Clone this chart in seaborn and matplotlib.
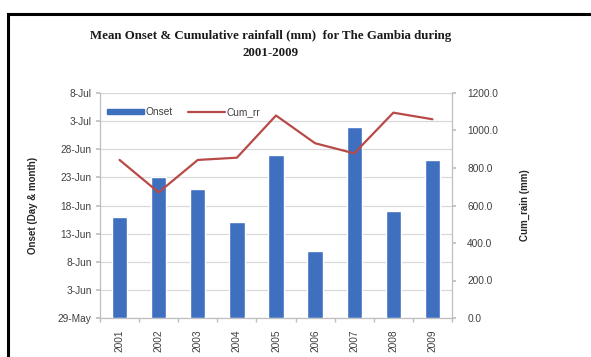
import numpy as np
import pandas as pd
import matplotlib
matplotlib.use("Agg")
import matplotlib.pyplot as plt
import matplotlib.patches as mpatches
from matplotlib.lines import Line2D
import seaborn as sns

# ---- data ----
years = ["2001", "2002", "2003", "2004", "2005", "2006", "2007", "2008", "2009"]
onset_dates = ["16-Jun", "23-Jun", "21-Jun", "15-Jun", "27-Jun", "10-Jun", "2-Jul", "17-Jun", "26-Jun"]
cum_rain = [843, 670, 843, 855, 1080, 932, 878, 1095, 1060]
date_ticks = ["29-May", "3-Jun", "8-Jun", "13-Jun", "18-Jun", "23-Jun", "28-Jun", "3-Jul", "8-Jul"]
rain_ticks = [0, 200, 400, 600, 800, 1000, 1200]

ref_year = "2001"
base = pd.to_datetime(f"{date_ticks[0]}-{ref_year}", format="%d-%b-%Y")
def to_days(s):
    return (pd.to_datetime(f"{s}-{ref_year}", format="%d-%b-%Y") - base).days

df = pd.DataFrame({
    "year": years,
    "onset": [to_days(d) for d in onset_dates],
    "cum_rr": cum_rain,
    "pos": np.arange(len(years)),
})

sns.set_theme(style="white")
plt.rcParams["font.family"] = ["Liberation Sans", "DejaVu Sans"]

fig = plt.figure(figsize=(5.91, 3.57), dpi=100)
fig.patch.set_facecolor("white")
ax = fig.add_axes([100/591, 1-318/357, 352/591, 225/357])

bar_color = "#3f6fbf"
line_color = "#b84a47"
grid_color = "#d9d9d9"
spine_color = "#bfbfbf"
tick_color = "#404040"
fs = 7.3

sns.barplot(data=df, x="year", y="onset", ax=ax, color=bar_color, width=0.39,
            saturation=1, zorder=3)
ax.set_xlim(-0.5, len(years) - 0.5)
day_ticks = [to_days(d) for d in date_ticks]
ax.set_ylim(day_ticks[0], day_ticks[-1])
ax.set_yticks(day_ticks)
ax.set_yticklabels(date_ticks)
ax.yaxis.grid(True, color=grid_color, lw=0.9, zorder=0)
ax.set_axisbelow(True)

ax2 = ax.twinx()
sns.lineplot(data=df, x="pos", y="cum_rr", ax=ax2, color=line_color, lw=1.6,
             sort=False, zorder=4)
ax2.set_ylim(rain_ticks[0], rain_ticks[-1])
ax2.set_yticks(rain_ticks)
ax2.set_yticklabels([f"{v:.1f}" for v in rain_ticks])
ax2.set_xlim(-0.5, len(years) - 0.5)

for a in (ax, ax2):
    a.spines["top"].set_visible(False)
    for s in ("left", "right", "bottom"):
        a.spines[s].set_color(spine_color)
        a.spines[s].set_linewidth(0.9)
ax.spines["right"].set_visible(False)
ax2.spines["left"].set_visible(False)
ax2.spines["bottom"].set_visible(False)

ax.set_xticks(np.arange(len(years)))
ax.set_xticklabels(years, rotation=90, fontsize=fs, color=tick_color)
ax.tick_params(axis="x", length=0, pad=8)
ax.set_xticks(np.arange(len(years) + 1) - 0.5, minor=True)
ax.tick_params(axis="x", which="minor", length=3, color=spine_color, direction="out", bottom=True)
ax.tick_params(axis="y", labelsize=fs, colors=tick_color, length=3, direction="out", left=True,
               pad=3)
ax.tick_params(axis="y", color=spine_color)
ax2.tick_params(axis="y", labelsize=fs, colors=tick_color, length=3, direction="out", right=True,
                pad=8)
ax2.tick_params(axis="y", color=spine_color)

ax.set_xlabel("")
ax.set_ylabel("Onset (Day & month)", fontsize=7, fontweight="bold", color="#262626", labelpad=14)
ax2.set_xlabel("")
ax2.set_ylabel("Cum_rain (mm)", fontsize=7, fontweight="bold", color="#262626", labelpad=16)

handles = [mpatches.Patch(color=bar_color), Line2D([0], [0], color=line_color, lw=1.6)]
leg = ax.legend(handles, ["Onset", "Cum_rr"], loc="center left", bbox_to_anchor=(0.0, 0.915),
                ncol=2, frameon=False, fontsize=fs, handlelength=3.6, handleheight=0.5,
                columnspacing=1.5, handletextpad=0.2, borderaxespad=0.3)
for t in leg.get_texts():
    t.set_color(tick_color)

fig.text(271/591, 1-44.5/357, "Mean Onset & Cumulative rainfall (mm)  for The Gambia during\n2001-2009",
         ha="center", va="center", fontsize=9.3, fontweight="bold", family="Liberation Serif",
         color="#1a1a1a", linespacing=1.55)

frame = mpatches.Rectangle((8/591, -0.2), 1.2, (1-14/357) + 0.2, transform=fig.transFigure,
                           fill=False, edgecolor="black", lw=2.2, clip_on=False)
fig.patches.append(frame)

fig.savefig("out.png", dpi=100, facecolor="white")
